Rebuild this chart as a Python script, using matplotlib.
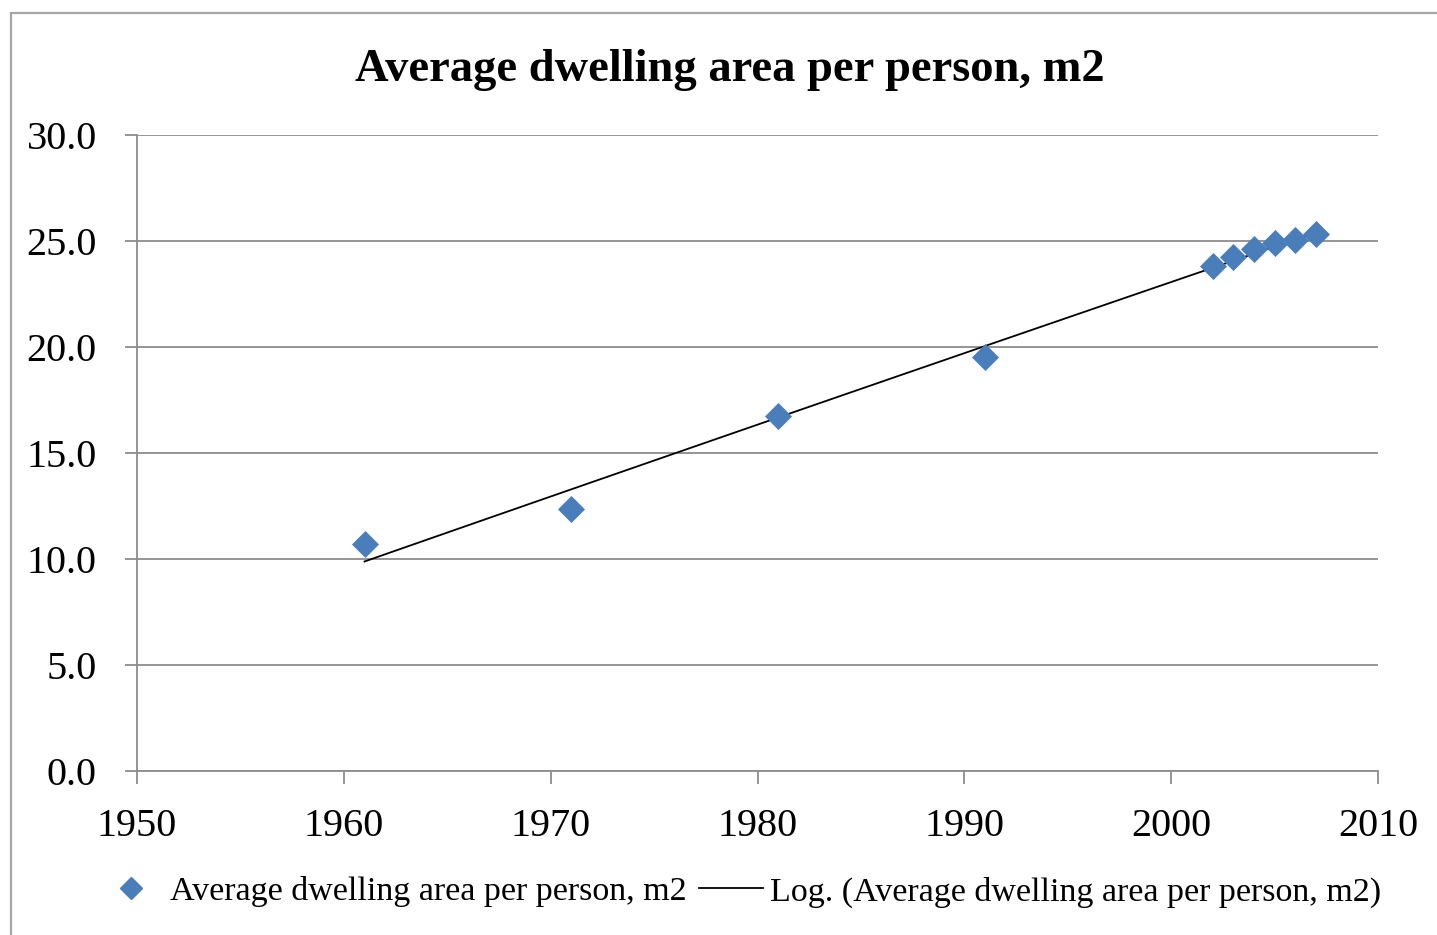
import matplotlib
matplotlib.use('Agg')
import matplotlib.pyplot as plt
import numpy as np
from matplotlib.lines import Line2D

# data
years = [1961, 1971, 1981, 1991, 2002, 2003, 2004, 2005, 2006, 2007]
area = [10.7, 12.35, 16.75, 19.55, 23.8, 24.25, 24.6, 24.9, 25.05, 25.35]
series_label = 'Average dwelling area per person, m2'
trend_label = 'Log. (Average dwelling area per person, m2)'

plt.rcParams['font.family'] = ['Liberation Serif', 'DejaVu Serif']

fig = plt.figure(figsize=(14.37, 9.35), dpi=100)

# outer chart border (gray), runs off right and bottom edges
fig.patches.append(plt.Rectangle((11 / 1437, -0.01), 1.1, 1 - 12.5 / 935 + 0.01,
                                 transform=fig.transFigure, fill=False,
                                 edgecolor='#a6a6a6', linewidth=1.6))

ax = fig.add_axes([137 / 1437, 1 - 771 / 935, (1378 - 137) / 1437, (771 - 135) / 935])

# logarithmic trendline, like excel's: y = a*ln(x) + b
x = np.array(years, dtype=float)
a, b = np.polyfit(np.log(x), np.array(area), 1)
xt = np.linspace(x.min(), x.max(), 100)
ax.plot(xt, a * np.log(xt) + b, color='black', linewidth=1.3, zorder=3)

ax.scatter(years, area, marker='D', s=190, color='#4a7ebb', linewidths=0, zorder=4)

ax.set_xlim(1950, 2010)
ax.set_ylim(0, 30)
ax.set_xticks(np.arange(1950, 2011, 10))
ax.set_yticks(np.arange(0, 31, 5))
ax.set_yticklabels(['%.1f' % v for v in np.arange(0, 31, 5)])
ax.grid(axis='y', color='#8c8c8c', linewidth=1.3)
ax.set_axisbelow(True)

for s in ['top', 'right']:
    ax.spines[s].set_visible(False)
for s in ['left', 'bottom']:
    ax.spines[s].set_color('#8c8c8c')
    ax.spines[s].set_linewidth(1.3)
ax.tick_params(axis='both', colors='#8c8c8c', length=9, width=1.3, labelsize=29,
               labelcolor='black')
ax.tick_params(axis='x', pad=18)
ax.tick_params(axis='y', pad=20)

fig.text(730 / 1437, 1 - 70 / 935, series_label, ha='center', va='center',
         fontsize=33.5, fontweight='bold')

handles = [Line2D([], [], marker='D', color='#4a7ebb', linestyle='none', markersize=11),
           Line2D([], [], color='black', linewidth=1.3)]
fig.legend(handles, [series_label, trend_label], loc='center',
           bbox_to_anchor=(740 / 1437, 1 - 892 / 935), ncol=2, frameon=False,
           fontsize=24.5, handlelength=1.9, handletextpad=0.2, columnspacing=0.35)

fig.savefig('out.png', dpi=100)
